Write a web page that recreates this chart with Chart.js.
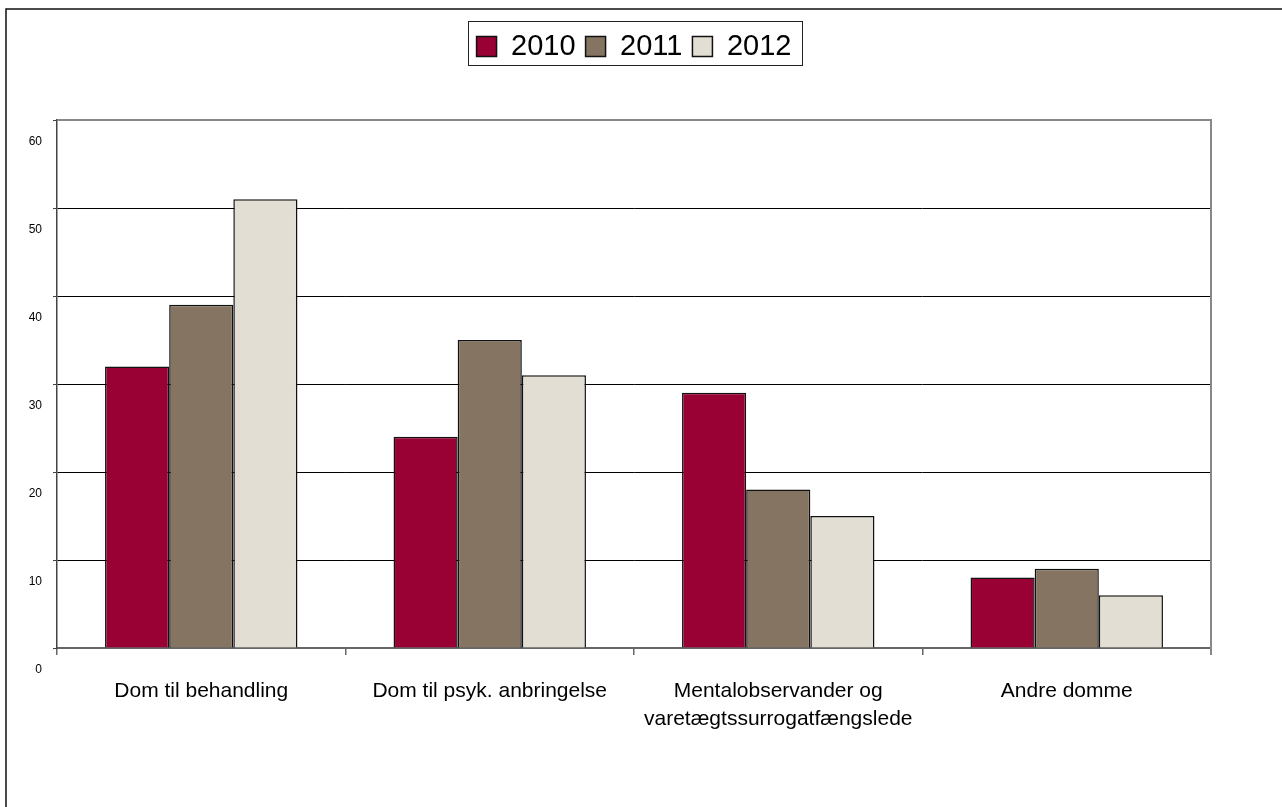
<!DOCTYPE html>
<html>
<head>
<meta charset="utf-8">
<script src="https://cdn.jsdelivr.net/npm/chart.js@4.4.1/dist/chart.umd.min.js"></script>
<style>
  html, body { margin: 0; padding: 0; background: #fff; }
  #wrap { position: absolute; left: 0; top: 0; width: 1282px; height: 807px; }
</style>
</head>
<body>
<div id="wrap"><canvas id="myChart" width="1282" height="807"></canvas></div>
<script>
'use strict'

let categories = [
    'Dom til behandling',
    'Dom til psyk. anbringelse',
    ['Mentalobservander og', 'varetægtssurrogatfængslede'],
    'Andre domme'
]
let years = ['2010', '2011', '2012']
let values2010 = [32, 24, 29, 8]
let values2011 = [39, 35, 18, 9]
let values2012 = [51, 31, 15, 6]
let yTicks = [0, 10, 20, 30, 40, 50, 60]
let colors = ['#990033', '#857461', '#E2DED4']

// outer frame of the figure
const framePlugin = {
    id: 'frame',
    beforeDraw(chart) {
        let ctx = chart.ctx
        ctx.save()
        ctx.strokeStyle = '#111'
        ctx.lineWidth = 1.5
        ctx.beginPath()
        ctx.moveTo(6, 807)
        ctx.lineTo(6, 9)
        ctx.lineTo(1282, 9)
        ctx.stroke()
        ctx.restore()
    },
    afterDraw(chart) {
        let ctx = chart.ctx
        let a = chart.chartArea
        ctx.save()
        // plot area border top + right
        ctx.strokeStyle = '#888'
        ctx.lineWidth = 2
        ctx.beginPath()
        ctx.moveTo(a.left, a.top)
        ctx.lineTo(a.right, a.top)
        ctx.lineTo(a.right, a.bottom + 7)
        ctx.stroke()
        // box round the legend
        let hb = chart.legend.legendHitBoxes
        if (hb && hb.length) {
            let first = hb[0]
            let last = hb[hb.length - 1]
            let x0 = first.left - 9
            let x1 = last.left + last.width + 10
            let y0 = first.top - 11.5
            let y1 = first.top + first.height + 3
            ctx.strokeStyle = '#222'
            ctx.lineWidth = 1
            ctx.strokeRect(Math.round(x0) + 0.5, Math.round(y0) + 0.5, Math.round(x1 - x0), Math.round(y1 - y0))
        }
        ctx.restore()
    }
}

let ctx = document.getElementById('myChart')
const myChart = new Chart(ctx, {
    type: 'bar',
    data: {
        labels: categories,
        datasets: years.map((y, i) => ({
            label: y,
            data: [values2010, values2011, values2012][i],
            backgroundColor: colors[i],
            borderColor: '#111',
            borderWidth: 1.5,
            categoryPercentage: 0.667,
            barPercentage: 1
        }))
    },
    plugins: [framePlugin],
    options: {
        responsive: false,
        animation: false,
        layout: {
            padding: { left: 0, right: 71, top: 22, bottom: 59 }
        },
        plugins: {
            tooltip: { enabled: false },
            legend: {
                position: 'top',
                fullSize: false,
                labels: {
                    font: { family: 'Liberation Sans, Arial, sans-serif', size: 29 },
                    color: '#000',
                    boxWidth: 20,
                    boxHeight: 20,
                    padding: 10
                }
            },
            // empty spacer between legend and plot
            title: {
                display: true,
                text: '',
                weight: 500,
                font: { size: 10 },
                padding: { top: 0, bottom: 37 }
            }
        },
        scales: {
            x: {
                afterFit(scale) { scale.height = 100 },
                grid: {
                    drawOnChartArea: false,
                    tickLength: 7,
                    tickColor: '#666',
                    lineWidth: 1.5
                },
                border: { color: '#666', width: 2 },
                ticks: {
                    color: '#000',
                    padding: 23,
                    maxRotation: 0,
                    autoSkip: false,
                    font: { family: 'Liberation Sans, Arial, sans-serif', size: 21, lineHeight: 1.3 }
                }
            },
            y: {
                min: yTicks[0],
                max: yTicks[yTicks.length - 1],
                afterFit(scale) { scale.width = 57 },
                afterBuildTicks(scale) { scale.ticks = yTicks.map(v => ({ value: v })) },
                grid: {
                    color: '#000',
                    lineWidth: 1,
                    tickLength: 4,
                    tickColor: '#444'
                },
                border: { color: '#444', width: 1.5 },
                ticks: {
                    color: '#000',
                    padding: 11,
                    labelOffset: 22,
                    font: { family: 'Liberation Sans, Arial, sans-serif', size: 12 }
                }
            }
        }
    }
})
</script>
</body>
</html>
